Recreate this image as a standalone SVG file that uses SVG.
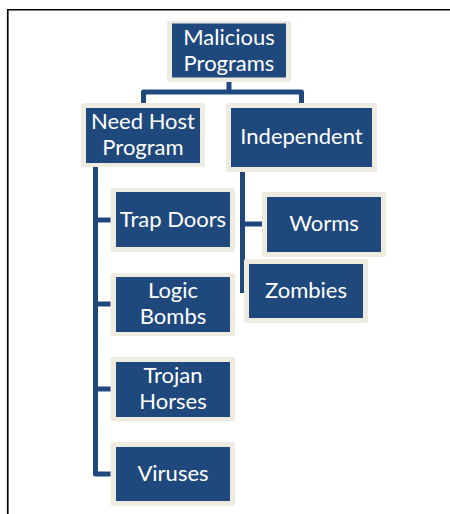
<svg xmlns="http://www.w3.org/2000/svg" width="450" height="514" viewBox="0 0 450 514">
<style>
.outer{fill:#EEECE1;}
.inner{fill:#1F497D;}
.t{fill:#FFFFFF;font-family:Lato,"Open Sans",sans-serif;font-size:22px;text-anchor:middle;}
.c{fill:none;stroke:#1F497D;stroke-width:5;stroke-linejoin:round;stroke-linecap:butt;}
</style>
<rect x="0" y="0" width="450" height="514" fill="#FFFFFF"/>
<path d="M7.75 520 V9.75 H460" fill="none" stroke="#000000" stroke-width="1.7"/>
<g id="connectors">
<path class="c" d="M229 77 V92"/>
<path class="c" d="M143.5 104 V92 H301.5 V104"/>
<path class="c" d="M95.5 167 V474 H111"/>
<path class="c" d="M95.5 220 H111"/>
<path class="c" d="M95.5 304 H111"/>
<path class="c" d="M95.5 389 H111"/>
<path class="c" d="M242.5 172 V293"/>
<path class="c" d="M242.5 224 H262"/>
</g>
<g id="malicious">
<rect class="outer" x="167" y="21" width="124" height="61" rx="2"/>
<rect class="inner" x="172" y="23.5" width="114" height="54"/>
<text class="t" x="229" y="44.5">Malicious</text>
<text class="t" x="229" y="70.5">Programs</text>
</g>
<g id="needhost">
<rect class="outer" x="81" y="103" width="124" height="64" rx="2"/>
<rect class="inner" x="86" y="108" width="114" height="55"/>
<text class="t" x="143" y="129">Need Host</text>
<text class="t" x="143" y="155">Program</text>
</g>
<g id="independent">
<rect class="outer" x="226" y="103" width="151" height="69" rx="2"/>
<rect class="inner" x="231" y="108" width="141" height="59"/>
<text class="t" x="301.5" y="143.5">Independent</text>
</g>
<g id="trapdoors">
<rect class="outer" x="110.5" y="188" width="124.5" height="64" rx="2"/>
<rect class="inner" x="116" y="192" width="114" height="55"/>
<text class="t" x="173" y="227">Trap Doors</text>
</g>
<g id="logicbombs">
<rect class="outer" x="110.5" y="273" width="124.5" height="63" rx="2"/>
<rect class="inner" x="116" y="277" width="114" height="55"/>
<text class="t" x="173" y="298">Logic</text>
<text class="t" x="173" y="324">Bombs</text>
</g>
<g id="trojanhorses">
<rect class="outer" x="110.5" y="357" width="124.5" height="64" rx="2"/>
<rect class="inner" x="116" y="362" width="114" height="55"/>
<text class="t" x="173" y="383">Trojan</text>
<text class="t" x="173" y="409">Horses</text>
</g>
<g id="viruses">
<rect class="outer" x="110.5" y="442" width="124.5" height="64" rx="2"/>
<rect class="inner" x="116" y="447" width="114" height="54"/>
<text class="t" x="173" y="481">Viruses</text>
</g>
<g id="worms">
<rect class="outer" x="262" y="192" width="124" height="65" rx="2"/>
<rect class="inner" x="267" y="197" width="114" height="55"/>
<text class="t" x="324" y="231">Worms</text>
</g>
<g id="zombies">
<rect class="outer" x="244" y="259" width="124" height="64" rx="2"/>
<rect class="inner" x="249" y="264" width="114" height="54"/>
<text class="t" x="306" y="298">Zombies</text>
</g>
</svg>
